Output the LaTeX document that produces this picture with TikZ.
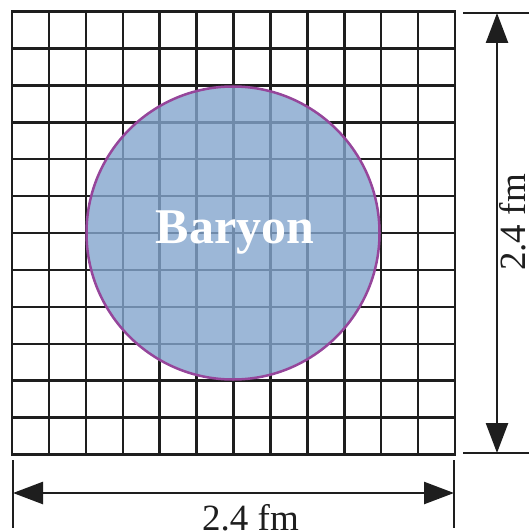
\documentclass[tikz,border=0pt]{standalone}
\usepackage{fontspec}
\setmainfont{Liberation Serif}
\usetikzlibrary{arrows.meta}
\definecolor{baryonfill}{RGB}{132,165,206}
\definecolor{baryonedge}{RGB}{150,70,155}
\definecolor{inkline}{RGB}{30,30,30}
\begin{document}
\begin{tikzpicture}[x=1pt,y=-1pt,
  gridline/.style={line width=2.5pt, draw=inkline, line cap=rect},
  dimline/.style={line width=2.5pt, draw=inkline},
  dimarrow/.style={dimline, {Triangle[length=30pt,width=22pt]}-{Triangle[length=30pt,width=22pt]}},
  dimlabel/.style={font=\fontsize{37}{40}\selectfont, inner sep=0pt, text=inkline},
  ]
\useasboundingbox (0,0) rectangle (529,532);
\fill[white] (0,0) rectangle (529,532);
% lattice
\foreach \i in {0,...,12} {
  \draw[gridline] ({12+\i*36.917},11.5) -- ({12+\i*36.917},454.5);
  \draw[gridline] (12,{11.5+\i*36.917}) -- (455,{11.5+\i*36.917});
}
% baryon
\node[circle, inner sep=0pt, minimum size=293pt, fill=baryonfill, fill opacity=0.8,
      draw=baryonedge, draw opacity=1, line width=2.5pt] (baryon) at (233,233) {};
\node[anchor=base, inner sep=0pt, text=white, font=\bfseries\fontsize{50}{55}\selectfont] (blabel) at (235,243) {Baryon};
% vertical dimension
\coordinate (vtA) at (463,13);
\coordinate (vtB) at (529,13);
\coordinate (vbA) at (463,453);
\coordinate (vbB) at (529,453);
\coordinate (vtop) at (497,13);
\coordinate (vbot) at (497,453);
\draw[dimline] (vtA) -- (vtB);
\draw[dimline] (vbA) -- (vbB);
\draw[dimarrow] (vtop) -- (vbot);
\node[dimlabel, rotate=90, anchor=base west] (vlabel) at (525,271) {2.4 fm};
% horizontal dimension
\coordinate (hlA) at (13,460);
\coordinate (hlB) at (13,528);
\coordinate (hrA) at (454,460);
\coordinate (hrB) at (454,528);
\coordinate (hleft) at (13,493);
\coordinate (hright) at (454,493);
\draw[dimline] (hlA) -- (hlB);
\draw[dimline] (hrA) -- (hrB);
\draw[dimarrow] (hleft) -- (hright);
\node[dimlabel, anchor=base west] (hlabel) at (202,530) {2.4 fm};
\end{tikzpicture}
\end{document}
